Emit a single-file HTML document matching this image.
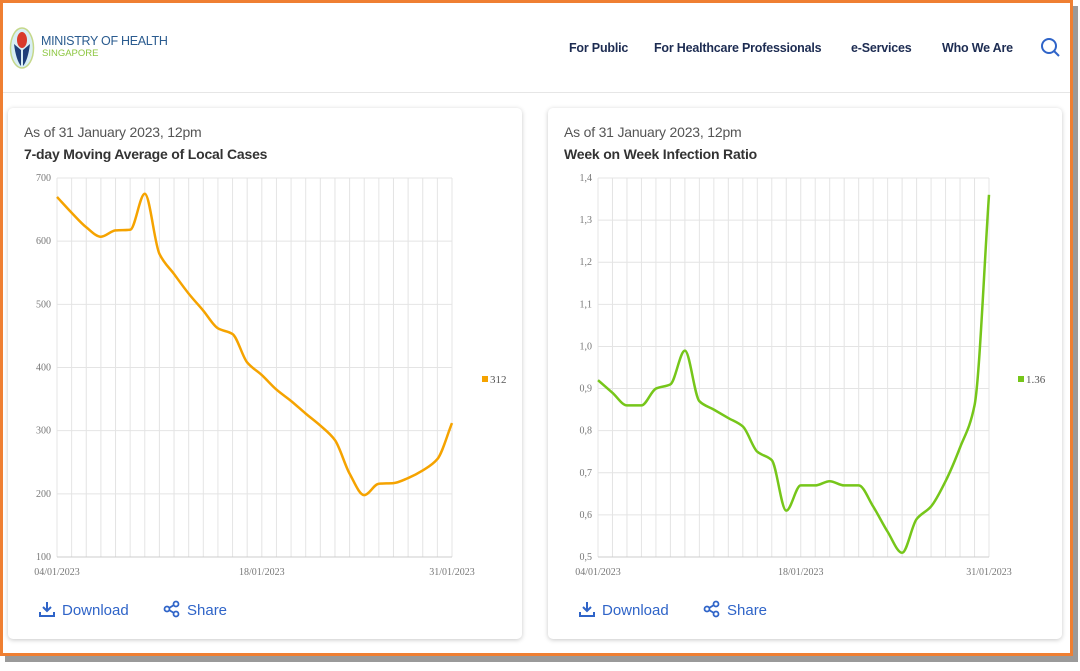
<!DOCTYPE html>
<html><head><meta charset="utf-8"><style>
body{margin:0;width:1080px;height:671px;background:#fff;position:relative;overflow:hidden;font-family:"Liberation Sans",sans-serif}
#frame{position:absolute;left:0;top:0;width:1067px;height:650px;border:3px solid #ef7f32;box-shadow:5px 6px 0 #9a9a9a;background:#fff;overflow:hidden}
#hdr{position:absolute;left:0;top:0;width:1067px;height:89px;border-bottom:1px solid #e6e6e6}
.nav{position:absolute;top:38px;font-size:12.5px;font-weight:bold;color:#1d2c52;letter-spacing:-0.2px}
.card{position:absolute;top:105px;width:514px;height:531px;background:#fff;border-radius:5px;box-shadow:0 1px 5px rgba(0,0,0,.22)}
.asof{position:absolute;left:16px;top:16px;font-size:14px;color:#555;letter-spacing:-0.2px}
.ttl{position:absolute;left:16px;top:38px;font-size:14px;font-weight:bold;color:#333;letter-spacing:-0.2px}
.act{position:absolute;top:492px;font-size:15px;color:#2f64c8}
svg text{font-family:"Liberation Serif",serif}
</style></head><body>
<div id="frame">
<div id="hdr">
 <svg style="position:absolute;left:6px;top:23px" width="26" height="44">
  <ellipse cx="13" cy="22" rx="11.5" ry="20" fill="#d8eef5" stroke="#c5d88a" stroke-width="1.5"/>
  <ellipse cx="13" cy="14" rx="5" ry="8" fill="#d93a2b"/>
  <path d="M5 18 Q7 34 12 40 L12 24 Z M21 18 Q19 34 14 40 L14 24 Z" fill="#1f3f78"/>
 </svg>
 <div style="position:absolute;left:38px;top:31px;font-size:12.5px;color:#2a5b8f;letter-spacing:-0.3px">MINISTRY OF HEALTH</div>
 <div style="position:absolute;left:39px;top:45px;font-size:9.5px;color:#8cc63f">SINGAPORE</div>
 <div class="nav" style="left:566px">For Public</div>
 <div class="nav" style="left:651px">For Healthcare Professionals</div>
 <div class="nav" style="left:848px">e-Services</div>
 <div class="nav" style="left:939px">Who We Are</div>
 <svg style="position:absolute;left:1037px;top:34px" width="22" height="22"><circle cx="9" cy="9" r="7" fill="none" stroke="#2f64c8" stroke-width="2"/><line x1="14" y1="14" x2="19" y2="19" stroke="#2f64c8" stroke-width="2"/></svg>
</div>
<div class="card" style="left:5px">
 <div class="asof">As of 31 January 2023, 12pm</div>
 <div class="ttl">7-day Moving Average of Local Cases</div>
 <svg id="c1" style="position:absolute;left:0;top:0" width="514" height="480"></svg>
 <div class="act" style="left:30px"><svg width="18" height="18" style="vertical-align:-3px;margin-right:6px"><path d="M9 2v9M5 7l4 4 4-4M2 12v4h14v-4" fill="none" stroke="#2f64c8" stroke-width="2"/></svg>Download</div>
 <div class="act" style="left:155px"><svg width="18" height="18" style="vertical-align:-3px;margin-right:6px"><circle cx="13" cy="4" r="2.5" fill="none" stroke="#2f64c8" stroke-width="1.8"/><circle cx="4" cy="9" r="2.5" fill="none" stroke="#2f64c8" stroke-width="1.8"/><circle cx="13" cy="14" r="2.5" fill="none" stroke="#2f64c8" stroke-width="1.8"/><path d="M6 8l5-3M6 10l5 3" stroke="#2f64c8" stroke-width="1.8"/></svg>Share</div>
</div>
<div class="card" style="left:545px">
 <div class="asof">As of 31 January 2023, 12pm</div>
 <div class="ttl">Week on Week Infection Ratio</div>
 <svg id="c2" style="position:absolute;left:0;top:0" width="514" height="480"></svg>
 <div class="act" style="left:30px"><svg width="18" height="18" style="vertical-align:-3px;margin-right:6px"><path d="M9 2v9M5 7l4 4 4-4M2 12v4h14v-4" fill="none" stroke="#2f64c8" stroke-width="2"/></svg>Download</div>
 <div class="act" style="left:155px"><svg width="18" height="18" style="vertical-align:-3px;margin-right:6px"><circle cx="13" cy="4" r="2.5" fill="none" stroke="#2f64c8" stroke-width="1.8"/><circle cx="4" cy="9" r="2.5" fill="none" stroke="#2f64c8" stroke-width="1.8"/><circle cx="13" cy="14" r="2.5" fill="none" stroke="#2f64c8" stroke-width="1.8"/><path d="M6 8l5-3M6 10l5 3" stroke="#2f64c8" stroke-width="1.8"/></svg>Share</div>
</div>
</div>
<script>
const casesValues=[670,645,622,607,617,618,675,580,548,517,490,462,453,408,388,365,347,327,308,285,232,198,216,217,225,237,255,312];
const ratioValues=[0.92,0.89,0.86,0.86,0.90,0.91,0.99,0.87,0.85,0.83,0.81,0.75,0.73,0.61,0.67,0.67,0.68,0.67,0.67,0.62,0.56,0.51,0.59,0.62,0.68,0.76,0.86,1.36];
const casesTicks=[100,200,300,400,500,600,700];
const ratioTicks=[0.5,0.6,0.7,0.8,0.9,1.0,1.1,1.2,1.3,1.4];
const xLabels=["04/01/2023","18/01/2023","31/01/2023"];
const xLabelIdx=[0,14,27];
const NS="http://www.w3.org/2000/svg";
function el(p,t,a){const e=document.createElementNS(NS,t);for(const k in a)e.setAttribute(k,a[k]);p.appendChild(e);return e;}
function mono(pts){let n=pts.length,d=[],m=[];for(let i=0;i<n-1;i++)d.push((pts[i+1][1]-pts[i][1])/(pts[i+1][0]-pts[i][0]));
m[0]=d[0];m[n-1]=d[n-2];for(let i=1;i<n-1;i++)m[i]=d[i-1]*d[i]<=0?0:2/(1/d[i-1]+1/d[i]);
let s="M"+pts[0][0]+","+pts[0][1];for(let i=0;i<n-1;i++){const h=(pts[i+1][0]-pts[i][0])/3;
s+=" C"+(pts[i][0]+h)+","+(pts[i][1]+m[i]*h)+" "+(pts[i+1][0]-h)+","+(pts[i+1][1]-m[i+1]*h)+" "+pts[i+1][0]+","+pts[i+1][1];}return s;}
function draw(svg,vals,ticks,x0,x1,color,fmt,legX){
 const y0=449,y1=70,mn=ticks[0],mx=ticks[ticks.length-1];
 const X=i=>x0+(x1-x0)*i/(vals.length-1),Y=v=>y0-(v-mn)/(mx-mn)*(y0-y1);
 for(let i=0;i<vals.length;i++){const l=el(svg,"line",{x1:X(i),x2:X(i),y1:y1,y2:y0,stroke:"#e4e4e4"});}
 ticks.forEach(t=>{const l=el(svg,"line",{x1:x0,x2:x1,y1:Y(t),y2:Y(t),stroke:"#e4e4e4"});
  const tx=el(svg,"text",{x:x0-6,y:Y(t)+3,"text-anchor":"end","font-size":"10",fill:"#777"});tx.textContent=fmt(t);});
 el(svg,"line",{x1:x0,x2:x1,y1:y0,y2:y0,stroke:"#ccc"});
 xLabels.forEach((s,k)=>{const tx=el(svg,"text",{x:X(xLabelIdx[k]),y:y0+18,"text-anchor":"middle","font-size":"10",fill:"#777"});tx.textContent=s;});
 const p=el(svg,"path",{d:mono(vals.map((v,i)=>[X(i),Y(v)])),fill:"none",stroke:color,"stroke-width":"2.5"});
 
 const last=vals[vals.length-1];
 const r=el(svg,"rect",{x:legX,y:268,width:6,height:6,fill:color});
 const lt=el(svg,"text",{x:legX+8,y:275,"font-size":"11",fill:"#555","font-family":"Liberation Sans,sans-serif"});lt.textContent=String(last);
}
draw(document.getElementById('c1'),casesValues,casesTicks,49,444,"#f5a300",t=>t,474);
draw(document.getElementById('c2'),ratioValues,ratioTicks,50,441,"#76c61a",t=>t.toFixed(1).replace('.',','),470);
</script>
</body></html>
